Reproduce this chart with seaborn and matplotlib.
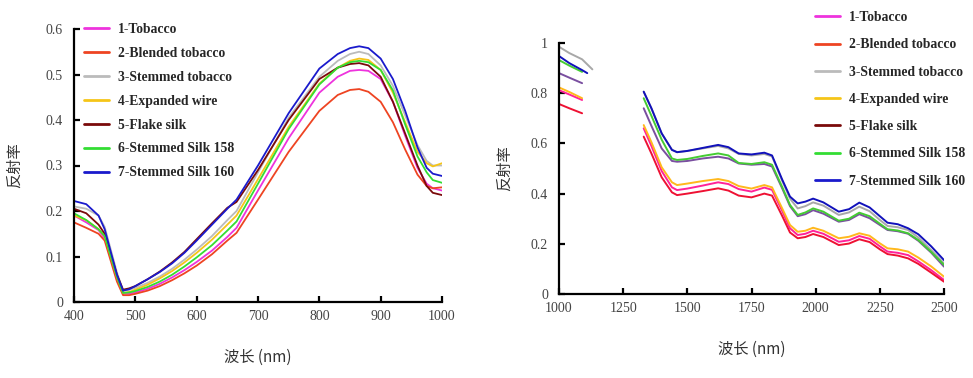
import numpy as np
import pandas as pd
import seaborn as sns
import matplotlib.pyplot as plt
from matplotlib.lines import Line2D
from matplotlib.ticker import FuncFormatter

# ---- legend / series names ----
names = ["1-Tobacco", "2-Blended tobacco", "3-Stemmed tobacco", "4-Expanded wire",
         "5-Flake silk", "6-Stemmed Silk 158", "7-Stemmed Silk 160"]
colors = ["#ee33dd", "#ee4422", "#bbbbbb", "#f5c518", "#7a0a0a", "#33dd33", "#1a1acc"]
colors_nir = ["#ff2299", "#ee1133", "#a8a8a8", "#ffb81c", "#7a4fa0", "#44cc33", "#1111bb"]

# ---- VIS range 400-1000 nm ----
wl_vis = [400, 420, 440, 450, 460, 470, 480, 490, 500, 520, 540, 560, 580, 600, 625, 650,
          665, 700, 750, 800, 830, 850, 865, 880, 900, 920, 940, 960, 975, 985, 1000]
tobacco_vis = [.190, .175, .158, .140, .095, .050, .018, .018, .021, .029, .040, .054, .070, .088, .113, .143,
               .163, .245, .360, .460, .495, .508, .510, .508, .490, .440, .365, .295, .260, .250, .245]
blended_vis = [.175, .163, .150, .135, .090, .045, .015, .015, .018, .025, .035, .048, .063, .080, .105, .135,
               .152, .225, .330, .420, .455, .466, .468, .462, .440, .395, .335, .280, .255, .250, .252]
stemmed_vis = [.210, .205, .190, .165, .115, .065, .025, .027, .031, .042, .056, .073, .093, .115, .145, .180,
               .200, .285, .405, .495, .530, .545, .550, .545, .520, .475, .410, .345, .310, .300, .300]
expanded_vis = [.190, .180, .160, .145, .100, .055, .020, .022, .027, .038, .052, .068, .087, .108, .137, .170,
                .190, .270, .385, .480, .515, .530, .535, .532, .510, .460, .395, .330, .305, .298, .305]
flake_vis = [.205, .195, .170, .150, .105, .060, .027, .030, .035, .050, .067, .087, .110, .138, .173, .207,
             .220, .290, .400, .490, .515, .523, .525, .520, .495, .440, .370, .300, .255, .240, .235]
silk158_vis = [.195, .180, .160, .145, .100, .055, .020, .021, .024, .033, .045, .060, .078, .098, .125, .157,
               .177, .260, .380, .478, .515, .527, .530, .527, .510, .465, .390, .320, .285, .268, .262]
silk160_vis = [.222, .215, .190, .160, .110, .060, .025, .028, .035, .050, .066, .085, .108, .135, .170, .205,
               .225, .300, .415, .513, .545, .558, .562, .558, .535, .490, .420, .340, .295, .282, .277]

# ---- NIR range 1000-2500 nm (gap where the source figure is blank) ----
nan = np.nan
wl_nir = [1000, 1040, 1090, 1110, 1130, 1200, 1330, 1360, 1400, 1440, 1460, 1500, 1560, 1620, 1660, 1700,
          1750, 1800, 1830, 1870, 1900, 1930, 1960, 1990, 2030, 2090, 2130, 2170, 2210, 2250, 2280,
          2320, 2360, 2400, 2450, 2500]
tobacco_nir = [.812, .795, .773, nan, nan, nan, .660, .590, .490, .425, .414, .420, .432, .445, .438, .418,
               .408, .424, .415, .330, .262, .235, .240, .252, .240, .208, .214, .231, .220, .190, .169,
               .164, .155, .130, .095, .056]
blended_nir = [.757, .740, .720, nan, nan, nan, .627, .560, .465, .405, .394, .400, .410, .421, .412, .392,
               .385, .400, .392, .310, .245, .222, .227, .239, .227, .195, .201, .218, .207, .178, .159,
               .153, .142, .120, .085, .049]
stemmed_nir = [.985, .960, .935, .915, .895, nan, .806, .740, .640, .575, .565, .570, .580, .590, .580, .558,
               .552, .558, .548, .450, .380, .341, .350, .365, .352, .315, .325, .348, .330, .295, .271,
               .266, .255, .225, .175, .122]
expanded_nir = [.823, .805, .780, nan, nan, nan, .673, .605, .505, .445, .434, .440, .450, .458, .450, .430,
                .420, .434, .425, .340, .275, .248, .252, .264, .252, .222, .228, .242, .232, .202, .182,
                .178, .169, .145, .110, .069]
flake_nir = [.880, .862, .840, nan, nan, nan, .740, .670, .580, .530, .527, .530, .540, .547, .540, .520,
             .515, .518, .508, .420, .350, .310, .318, .334, .320, .288, .295, .318, .302, .275, .255,
             .250, .240, .212, .165, .109]
silk158_nir = [.932, .910, .885, nan, nan, nan, .780, .710, .615, .540, .534, .538, .550, .560, .552, .522,
               .518, .525, .515, .425, .355, .315, .325, .341, .328, .292, .300, .324, .310, .280, .258,
               .253, .242, .215, .168, .116]
silk160_nir = [.948, .920, .892, .880, nan, nan, .806, .740, .640, .574, .565, .570, .582, .594, .585, .560,
               .556, .563, .552, .455, .388, .361, .368, .380, .365, .328, .338, .364, .345, .310, .284,
               .278, .262, .238, .190, .135]

vis_series = [tobacco_vis, blended_vis, stemmed_vis, expanded_vis, flake_vis, silk158_vis, silk160_vis]
nir_series = [tobacco_nir, blended_nir, stemmed_nir, expanded_nir, flake_nir, silk158_nir, silk160_nir]


def long_frame(wl, series):
    rows = []
    for name, vals in zip(names, series):
        seg = 0
        for x, y in zip(wl, vals):
            if np.isnan(y):
                seg += 1
                continue
            rows.append((name, seg, x, y))
    return pd.DataFrame(rows, columns=["sample", "seg", "wl", "refl"])


sns.set_style("ticks")
plt.rcParams["font.family"] = ["Liberation Serif", "Noto Sans CJK SC"]
cjk = ["Noto Sans CJK SC", "Liberation Serif"]
tick_color = "#444444"

fig = plt.figure(figsize=(9.73, 3.78), dpi=100)
ax1 = fig.add_axes([74 / 973, 1 - 302 / 378, 368 / 973, 273 / 378])
ax2 = fig.add_axes([559 / 973, 1 - 294 / 378, 385 / 973, 251 / 378])

df_vis = long_frame(wl_vis, vis_series)
df_nir = long_frame(wl_nir, nir_series)

sns.lineplot(data=df_vis, x="wl", y="refl", hue="sample", units="seg", estimator=None,
             palette=dict(zip(names, colors)), lw=1.3, ax=ax1, legend=False)
sns.lineplot(data=df_nir, x="wl", y="refl", hue="sample", units="seg", estimator=None,
             palette=dict(zip(names, colors_nir)), lw=1.4, ax=ax2, legend=False)

ax1.set_xlim(400, 1000)
ax1.set_ylim(0, 0.6)
ax1.set_xticks(range(400, 1001, 100))
ax1.set_yticks(np.arange(0, 0.61, 0.1))
ax2.set_xlim(1000, 2500)
ax2.set_ylim(0, 1)
ax2.set_xticks(range(1000, 2501, 250))
ax2.set_yticks(np.arange(0, 1.01, 0.2))

fmt = FuncFormatter(lambda v, p: f"{v:g}")
for ax in (ax1, ax2):
    sns.despine(ax=ax)
    ax.yaxis.set_major_formatter(fmt)
    for s in ("left", "bottom"):
        ax.spines[s].set_linewidth(1.6)
        ax.spines[s].set_color("black")
    ax.tick_params(direction="in", length=4, width=1.6, colors="black",
                   labelcolor=tick_color, labelsize=10)
    ax.tick_params(axis="x", pad=6)
    ax.tick_params(axis="y", pad=8)
    ax.set_xlabel("波长 (nm)", family=cjk, fontsize=11, color="#333333", labelpad=18)
    ax.set_ylabel("反射率", family=cjk, fontsize=11, color="#333333")

ax1.yaxis.set_label_coords(-0.14, 0.5)
ax2.yaxis.set_label_coords(-0.12, 0.5)

handles = [Line2D([], [], color=c, lw=2) for c in colors]
leg_kw = dict(frameon=False, handlelength=1.8, handletextpad=0.7, borderpad=0, borderaxespad=0,
              prop={"family": "Liberation Serif", "weight": "bold", "size": 9.8})
fig.legend(handles, names, loc="upper left", bbox_to_anchor=(84 / 973, 1 - 23 / 378),
           labelspacing=0.8, **leg_kw)
fig.legend(handles, names, loc="upper left", bbox_to_anchor=(815 / 973, 1 - 11 / 378),
           labelspacing=1.05, **leg_kw)

fig.savefig("out.png", dpi=100)
